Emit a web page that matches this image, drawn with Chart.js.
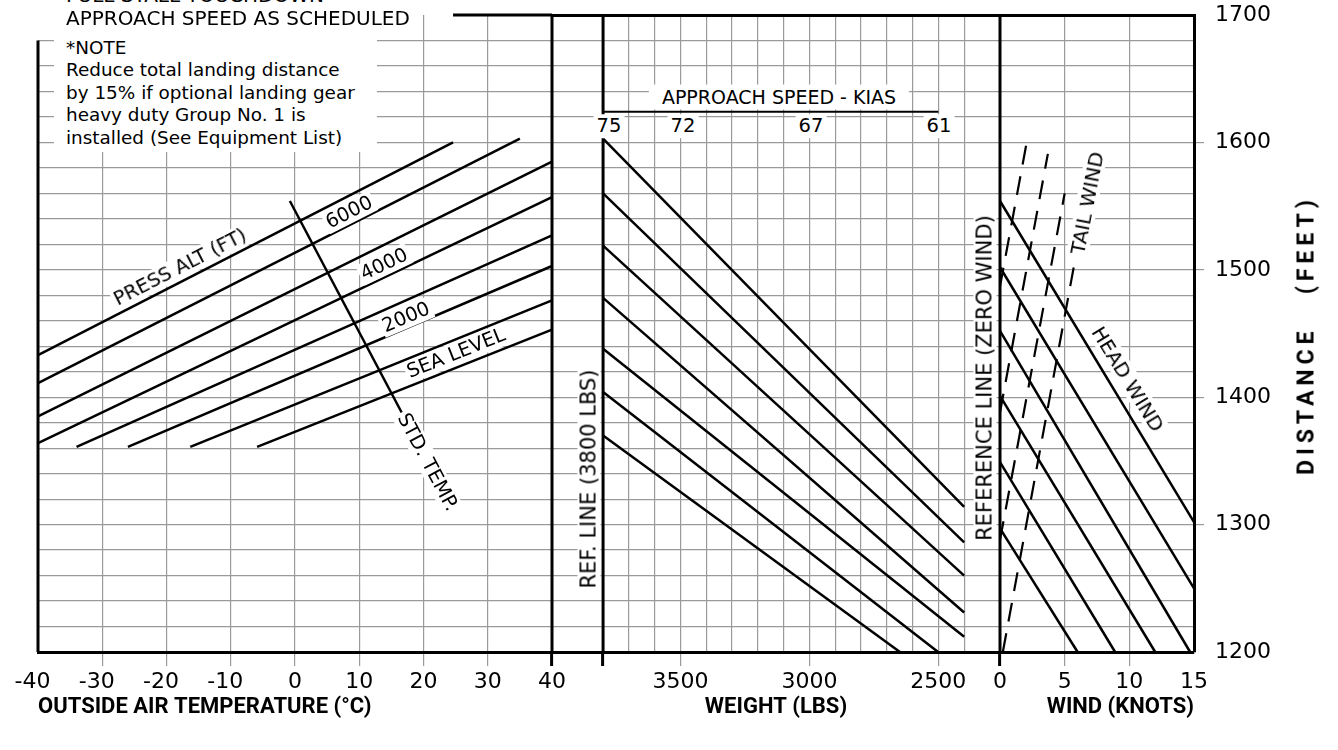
<!DOCTYPE html>
<html>
<head>
<meta charset="utf-8">
<script src="https://cdn.jsdelivr.net/npm/chart.js@4.4.1/dist/chart.umd.min.js"></script>
<style>
  html, body { margin: 0; padding: 0; background: #fff; }
  #wrap { position: relative; width: 1338px; height: 750px; overflow: hidden; font-family: "DejaVu Sans", sans-serif; color: #000; }
  #wrap canvas { position: absolute; left: 0; top: 0; }
  .lbl { position: absolute; white-space: pre; background: #fff; line-height: 1; padding: 1px 2px; }
  .note { position: absolute; left: 54px; top: 0; width: 323px; height: 152px; background: #fff; }
  .note div { position: absolute; left: 12px; font-size: 18.4px; line-height: 1; white-space: nowrap; }
</style>
</head>
<body>
<div id="wrap">
  <canvas id="weightChart" width="1338" height="750"></canvas>
  <canvas id="windChart" width="1338" height="750"></canvas>
  <canvas id="tempChart" width="1338" height="750"></canvas>
</div>
<script>
// axis ticks
const distanceTicks = [1200, 1300, 1400, 1500, 1600, 1700];
const tempTicks = [-40, -30, -20, -10, 0, 10, 20, 30, 40];
const weightTicks = [3500, 3000, 2500];
const windTicks = [0, 5, 10, 15];
const kiasLabels = ["75", "72", "67", "61"];

// pressure altitude lines, 7000 ft (top) down to sea level
const altStartTemp = [-40, -40, -40, -40, -34, -26, -16.3, -5.9];
const altStartDist = [1433, 1411, 1385, 1364, 1361, 1361, 1361, 1361];
const altEndTemp = [24.6, 35, 40, 40, 40, 40, 40, 40];
const altEndDist = [1600, 1603, 1585, 1557, 1527, 1503, 1476, 1453];
const stdTempTemp = [-0.8, 16.6];
const stdTempDist = [1554, 1388];

// weight guide lines, from the 3800 lbs reference line
const weightStartDist = [1603, 1560, 1519, 1478, 1438, 1404, 1370];
const weightEndLbs = [2400, 2400, 2400, 2400, 2400, 2501, 2649];
const weightEndDist = [1314, 1286, 1260, 1231, 1212, 1200, 1200];
const kiasDist = 1624;

// wind guide lines, from the zero wind reference line
const headStartDist = [1554, 1502, 1452, 1401, 1349, 1297];
const headEndWind = [15, 15, 14.7, 12, 8.9, 6];
const headEndDist = [1302, 1250, 1200, 1200, 1200, 1200];
const tailStartWind = [0, 0, 0, 0.22];
const tailStartDist = [1487, 1388, 1288, 1200];
const tailEndWind = [2.1, 3.7, 5.0, 5.7];
const tailEndDist = [1602, 1591, 1560, 1502];

Chart.defaults.font.family = '"DejaVu Sans", sans-serif';
Chart.defaults.color = "#000";

const GRID = "#9a9a9a";
const NONE = "rgba(0,0,0,0)";
const tickFont = { size: 22 };
const titleFont = { family: "Roboto, sans-serif", size: 22, weight: "bold" };

const distGrid = [];
for (let d = 1200; d <= 1700; d += 20) distGrid.push(d);
const weightGrid = [];
for (let w = 3800; w >= 2400; w -= 100) weightGrid.push(w);

const tv = (c) => (c.tick ? c.tick.value : null);

const seg = (x1, y1, x2, y2, extra) => Object.assign({
	data: [{ x: x1, y: y1 }, { x: x2, y: y2 }],
	borderColor: "#000",
	borderWidth: 2.5,
	pointRadius: 0,
	fill: false,
	tension: 0,
	clip: false,
}, extra || {});

// keep tick labels from pushing the plot area around
const fixSize = (w, h) => (s) => {
	if (w !== null) s.width = w;
	if (h !== null) s.height = h;
	s.paddingTop = 0;
	s.paddingBottom = 0;
	s.paddingLeft = 0;
	s.paddingRight = 0;
};

const hiddenY = (topBold) => ({
	type: "linear",
	min: 1200,
	max: 1700,
	position: "left",
	afterBuildTicks: (s) => { s.ticks = distGrid.map((v) => ({ value: v })); },
	afterFit: fixSize(0, null),
	ticks: { display: false },
	border: { display: false },
	grid: {
		drawTicks: false,
		color: (c) => (tv(c) === 1700 ? (topBold ? "#000" : NONE) : GRID),
		lineWidth: (c) => (tv(c) === 1700 ? 3 : 1.2),
	},
});

const baseOptions = (padding) => ({
	responsive: false,
	animation: false,
	devicePixelRatio: 1,
	events: [],
	layout: { padding },
	plugins: { legend: { display: false }, tooltip: { enabled: false } },
});

// temperature panel
const tempData = altStartTemp.map((t, i) => seg(t, altStartDist[i], altEndTemp[i], altEndDist[i]));
tempData.push(seg(stdTempTemp[0], stdTempDist[0], stdTempTemp[1], stdTempDist[1]));
tempData.push(seg(-40, 1200, -40, 1680, { borderWidth: 3 }));
tempData.push(seg(40, 1200, 40, 1700, { borderWidth: 3 }));
tempData.push(seg(24.6, 1700, 40, 1700, { borderWidth: 3 }));

new Chart(document.getElementById("tempChart"), {
	type: "line",
	data: { datasets: tempData },
	options: {
		...baseOptions({ left: 38, right: 786, top: 15, bottom: 0 }),
		scales: {
			x: {
				type: "linear",
				min: -40,
				max: 40,
				afterBuildTicks: (s) => { s.ticks = tempTicks.map((v) => ({ value: v })); },
				afterFit: fixSize(null, 98),
				border: { display: true, color: "#000", width: 3 },
				grid: {
					color: (c) => (tv(c) === -40 || tv(c) === 40 ? NONE : GRID),
					lineWidth: 1.2,
					tickLength: 14,
					tickColor: (c) => (tv(c) === -40 ? NONE : tv(c) === 40 ? "#000" : GRID),
					tickWidth: (c) => (tv(c) === 40 ? 3 : 1.2),
				},
				ticks: {
					autoSkip: false,
					maxRotation: 0,
					padding: 3,
					font: tickFont,
					callback: (v) => (v < 0 ? v + "\u2002" : String(v)),
				},
				title: { display: true, text: "OUTSIDE AIR TEMPERATURE (\u00B0C)", font: titleFont, align: "start", padding: { bottom: 29 } },
			},
			y: hiddenY(false),
		},
	},
});

// weight panel (starts at the 40 °C line, reference line at 3800 lbs)
const weightData = weightStartDist.map((d, i) => seg(3800, d, weightEndLbs[i], weightEndDist[i]));
weightData.push(seg(3800, 1200, 3800, 1700, { borderWidth: 3 }));
weightData.push(seg(3800, kiasDist, 2500, kiasDist, { borderWidth: 2 }));

new Chart(document.getElementById("weightChart"), {
	type: "line",
	data: { datasets: weightData },
	options: {
		...baseOptions({ left: 552, right: 338, top: 15, bottom: 0 }),
		scales: {
			x: {
				type: "linear",
				min: 2261,
				max: 3998,
				reverse: true,
				afterBuildTicks: (s) => { s.ticks = weightGrid.map((v) => ({ value: v })); },
				afterFit: fixSize(null, 98),
				border: { display: true, color: "#000", width: 3 },
				grid: {
					color: (c) => (tv(c) === 3800 ? NONE : GRID),
					lineWidth: 1.2,
					tickLength: 14,
					tickColor: (c) => (tv(c) === 3800 ? "#000" : weightTicks.includes(tv(c)) ? GRID : NONE),
					tickWidth: (c) => (tv(c) === 3800 ? 3 : 1.2),
				},
				ticks: {
					autoSkip: false,
					maxRotation: 0,
					padding: 3,
					font: tickFont,
					callback: (v) => (weightTicks.includes(v) ? String(v) : ""),
				},
				title: { display: true, text: "WEIGHT (LBS)", font: titleFont, padding: { bottom: 29 } },
			},
			y: hiddenY(true),
		},
	},
});

// wind panel
const windData = headStartDist.map((d, i) => seg(0, d, headEndWind[i], headEndDist[i]));
tailEndWind.forEach((w, i) => windData.push(seg(tailStartWind[i], tailStartDist[i], w, tailEndDist[i], { borderWidth: 2.2, borderDash: [19, 12] })));
windData.push(seg(0, 1200, 0, 1700, { borderWidth: 3 }));

new Chart(document.getElementById("windChart"), {
	type: "line",
	data: { datasets: windData },
	options: {
		...baseOptions({ left: 1000, right: 0, top: 15, bottom: 0 }),
		scales: {
			x: {
				type: "linear",
				min: 0,
				max: 15,
				afterBuildTicks: (s) => { s.ticks = windTicks.map((v) => ({ value: v })); },
				afterFit: fixSize(null, 98),
				border: { display: true, color: "#000", width: 3 },
				grid: {
					color: (c) => (tv(c) === 0 || tv(c) === 15 ? NONE : GRID),
					lineWidth: 1.2,
					tickLength: 14,
					tickColor: (c) => (tv(c) === 0 ? "#000" : tv(c) === 15 ? NONE : GRID),
					tickWidth: (c) => (tv(c) === 0 ? 3 : 1.2),
				},
				ticks: { autoSkip: false, maxRotation: 0, padding: 3, font: tickFont, callback: (v) => String(v) },
				title: { display: true, text: "WIND (KNOTS)", font: titleFont, align: "end", padding: { bottom: 29 } },
			},
			y: {
				type: "linear",
				min: 1200,
				max: 1700,
				position: "right",
				afterBuildTicks: (s) => { s.ticks = distGrid.map((v) => ({ value: v })); },
				afterFit: fixSize(144, null),
				border: { display: true, color: "#000", width: 3 },
				grid: {
					color: (c) => (tv(c) === 1700 ? "#000" : GRID),
					lineWidth: (c) => (tv(c) === 1700 ? 3 : 1.2),
					tickLength: 10,
					tickWidth: 1.2,
					tickColor: (c) => (distanceTicks.includes(tv(c)) && tv(c) !== 1200 && tv(c) !== 1700 ? GRID : NONE),
				},
				ticks: { autoSkip: false, padding: 11, font: tickFont, callback: (v) => (distanceTicks.includes(v) ? String(v) : "") },
			},
		},
	},
});

// text on the chart
const wrap = document.getElementById("wrap");

const addLabel = (text, cx, cy, angle, size, extra) => {
	const el = document.createElement("div");
	el.className = "lbl";
	el.textContent = text;
	el.style.left = cx + "px";
	el.style.top = cy + "px";
	el.style.fontSize = size + "px";
	el.style.transform = `translate(-50%, -50%) rotate(${angle}deg)`;
	Object.assign(el.style, extra || {});
	wrap.appendChild(el);
	return el;
};

const note = document.createElement("div");
note.className = "note";
["*NOTE", "Reduce total landing distance", "by 15% if optional landing gear", "heavy duty Group No. 1 is", "installed (See Equipment List)"].forEach((t, i) => {
	const line = document.createElement("div");
	line.textContent = t;
	line.style.top = (38.5 + i * 22.5) + "px";
	note.appendChild(line);
});
wrap.appendChild(note);

addLabel("FULL STALL TOUCHDOWN", 66, -5, 0, 20, { transform: "translate(0, -50%)", padding: "0" });
addLabel("APPROACH SPEED AS SCHEDULED", 66, 18, 0, 20, { transform: "translate(0, -50%)", padding: "0 4px 0 0" });

addLabel("PRESS ALT (FT)", 180, 267, -27.1, 19.5);
addLabel("6000", 349, 212, -26.9, 19.5);
addLabel("4000", 384, 264, -25.6, 19.5);
addLabel("2000", 406, 317, -23.1, 19.5);
addLabel("SEA LEVEL", 456, 353, -21.8, 19.5);
addLabel("STD. TEMP.", 428, 462, 62, 19.5);

addLabel("APPROACH SPEED - KIAS", 779, 97, 0, 19, { padding: "3px 13px" });
const kiasX = [609, 683, 811, 939];
kiasLabels.forEach((t, i) => addLabel(t, kiasX[i], 126, 0, 19.5, { padding: "2px 3px" }));

addLabel("REF. LINE (3800 LBS)", 588.5, 479, -90, 21);
addLabel("REFERENCE LINE (ZERO WIND)", 985, 378, -90, 21);
addLabel("TAIL WIND", 1087, 203, -79, 20);
addLabel("HEAD WIND", 1128, 379, 58.5, 20);

addLabel("DISTANCE   (FEET)", 1306, 335, -90, 23, { fontFamily: "Roboto, sans-serif", fontWeight: "bold", letterSpacing: "5px", background: "none" });
</script>
</body>
</html>
